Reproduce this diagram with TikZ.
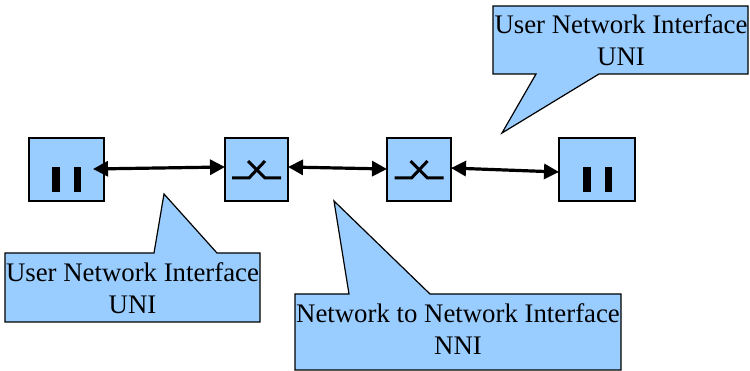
\documentclass[tikz,border=0pt]{standalone}
\usepackage{fontspec}
\setmainfont{Liberation Serif}
\usetikzlibrary{arrows.meta,calc}
\definecolor{boxblue}{HTML}{99CCFF}
\tikzset{
  unitbox/.style={draw=black,fill=boxblue,line width=1.2pt,minimum height=63pt,inner sep=0pt,outer sep=0pt,anchor=north west},
  bubble/.style={draw=black,fill=boxblue,line width=1.2pt,line join=miter},
  bubbletext/.style={align=center,font=\fontsize{26.8pt}{32pt}\selectfont,inner sep=0pt,text=black},
  link/.style={line width=3.2pt,{Triangle[length=15pt,width=15pt]}-{Triangle[length=15pt,width=15pt]}},
  bar/.style={fill=black,draw=none},
  sw/.style={line width=3pt,line cap=butt,line join=miter},
}
\begin{document}
\begin{tikzpicture}[x=1pt,y=-1pt]
\useasboundingbox (0,0) rectangle (750,371);
% devices
\node[unitbox,minimum width=75pt] (ua) at (29,138) {};
\node[unitbox,minimum width=63pt] (sa) at (225,138) {};
\node[unitbox,minimum width=64pt] (sb) at (387,138) {};
\node[unitbox,minimum width=76pt] (ub) at (559,138) {};
% terminal bars
\fill[bar] (52,167) rectangle (59.5,192);
\fill[bar] (73.5,167) rectangle (81,192);
\fill[bar] (583,167) rectangle (590.5,192);
\fill[bar] (604.5,167) rectangle (612,192);
% switch symbols
\draw[sw] (232,178) -- (249,178) -- (265,161);
\draw[sw] (248,161) -- (265,178) -- (281,178);
\draw[sw] (394.5,178) -- (411.5,178) -- (427.5,161);
\draw[sw] (410.5,161) -- (427.5,178) -- (443.5,178);
% links
\draw[link] ([xshift=-11pt,yshift=0.5pt]ua.east) -- ([yshift=2.5pt]sa.west);
\draw[link] ([yshift=2.5pt]sa.east) -- ([yshift=0.5pt]sb.west);
\draw[link] ([yshift=1.5pt]sb.east) -- ([yshift=-2.5pt]ub.west);
% callouts
\draw[bubble] (493,6) -- (748,6) -- (748,74) -- (599,74) -- (502,133) -- (536,74) -- (493,74) -- cycle;
\draw[bubble] (5,253) -- (154,253) -- (164,194) -- (217,253) -- (260,253) -- (260,322) -- (5,322) -- cycle;
\draw[bubble] (295,294) -- (349,294) -- (334,201) -- (430,294) -- (621,294) -- (621,370) -- (295,370) -- cycle;
\node[bubbletext] (t1) at (621,40) {User Network Interface\\UNI};
\node[bubbletext] (t2) at (132.5,288) {User Network Interface\\UNI};
\node[bubbletext] (t3) at (458,329) {Network to Network Interface\\NNI};
\end{tikzpicture}
\end{document}
